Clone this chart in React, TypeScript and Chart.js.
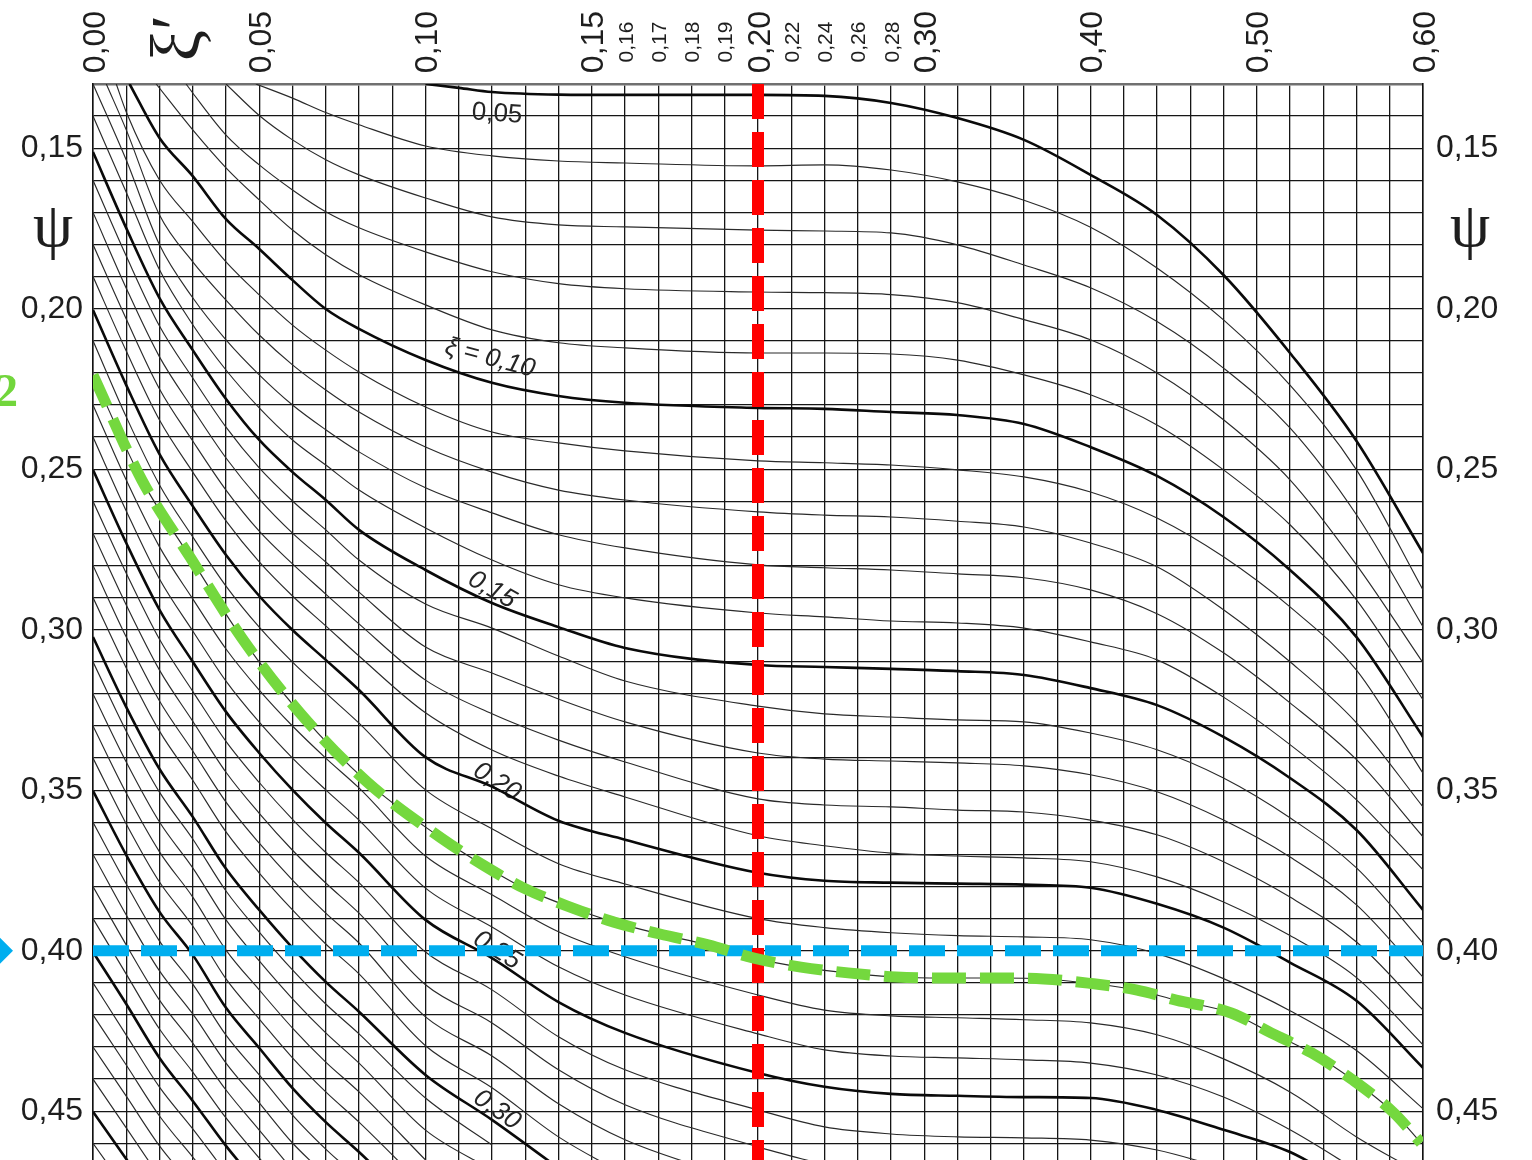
import React, { useEffect, useRef } from "react";
import { Chart, registerables, LinearScale } from "chart.js";

Chart.register(...registerables);

const W = 1532;
const H = 1160;
const PSI_MIN = 0.13;
const PSI_MAX = 0.4652;

// ---- axis labels ----
const xBigTicks = [0.0, 0.05, 0.1, 0.15, 0.2, 0.3, 0.4, 0.5, 0.6];
const xSmallTicks = [0.16, 0.17, 0.18, 0.19, 0.22, 0.24, 0.26, 0.28];
const yLabelValues = [0.15, 0.2, 0.25, 0.3, 0.35, 0.4, 0.45];

// nomogram x scale: 0..0.20 in 0.01 cells, 0.20..0.60 in 0.02 cells (40 cells)
const toCell = (x: number) => (x <= 0.2 ? x * 100 : 20 + (x - 0.2) * 50);
const fromCell = (c: number) => (c <= 20 ? c / 100 : 0.2 + (c - 20) / 50);
const xGridValues: number[] = [];
for (let c = 0; c <= 40; c++) xGridValues.push(fromCell(c));
const yGridValues: number[] = [];
for (let k = 13; k <= 46; k++) yGridValues.push(k / 100);

// ---- curves of constant xi : [xi', psi] ----
const xi05 = [[0.1,0.13],[0.11,0.1312],[0.12,0.1325],[0.14,0.1333],[0.16,0.1334],[0.2,0.1334],[0.24,0.1337],[0.28,0.1359],[0.32,0.1406],[0.36,0.1474],[0.4,0.1583],[0.44,0.1708],[0.48,0.1895],[0.52,0.2138],[0.56,0.2412],[0.6,0.2761]];
const xi06 = [[0.049,0.13],[0.06,0.1344],[0.07,0.1389],[0.08,0.1427],[0.1,0.1493],[0.12,0.1524],[0.14,0.154],[0.16,0.1546],[0.2,0.1555],[0.24,0.1552],[0.28,0.1568],[0.32,0.1605],[0.36,0.1662],[0.4,0.1746],[0.44,0.1873],[0.48,0.2035],[0.52,0.2238],[0.56,0.2502],[0.6,0.2876]];
const xi07 = [[0.04,0.13],[0.05,0.1398],[0.06,0.1474],[0.07,0.1536],[0.08,0.1583],[0.1,0.1655],[0.12,0.1714],[0.14,0.1739],[0.16,0.1745],[0.2,0.1755],[0.24,0.1758],[0.28,0.1764],[0.32,0.1801],[0.36,0.1864],[0.4,0.1935],[0.44,0.2040],[0.48,0.2185],[0.52,0.2371],[0.56,0.2642],[0.6,0.2991]];
const xi08 = [[0.028,0.13],[0.03,0.1328],[0.04,0.1459],[0.05,0.1552],[0.06,0.163],[0.07,0.1698],[0.08,0.1748],[0.1,0.1823],[0.12,0.1885],[0.14,0.1922],[0.16,0.1938],[0.2,0.1948],[0.24,0.195],[0.28,0.1956],[0.32,0.1981],[0.36,0.2034],[0.4,0.2097],[0.44,0.22],[0.48,0.2346],[0.52,0.2533],[0.56,0.2798],[0.6,0.3103]];
const xi09 = [[0.019,0.13],[0.03,0.1443],[0.04,0.1561],[0.05,0.1661],[0.06,0.1755],[0.07,0.1832],[0.08,0.1894],[0.1,0.1988],[0.12,0.2066],[0.14,0.2106],[0.16,0.2122],[0.2,0.2138],[0.24,0.2138],[0.28,0.2141],[0.32,0.216],[0.36,0.2206],[0.4,0.2268],[0.44,0.2362],[0.48,0.2502],[0.52,0.2673],[0.56,0.2907],[0.6,0.3218]];
const xi10 = [[0.011,0.13],[0.02,0.1468],[0.03,0.1587],[0.04,0.1721],[0.05,0.1814],[0.06,0.1911],[0.07,0.2001],[0.08,0.2063],[0.1,0.216],[0.12,0.2231],[0.14,0.2272],[0.16,0.2293],[0.2,0.2309],[0.24,0.2312],[0.28,0.2322],[0.32,0.2331],[0.36,0.2359],[0.4,0.2431],[0.44,0.2521],[0.48,0.2649],[0.52,0.2814],[0.56,0.3023],[0.6,0.3334]];
const xi11 = [[0.007,0.13],[0.01,0.1387],[0.02,0.1599],[0.03,0.1729],[0.04,0.1854],[0.05,0.1957],[0.06,0.2051],[0.07,0.2129],[0.08,0.2197],[0.1,0.2306],[0.12,0.2384],[0.14,0.2418],[0.16,0.2443],[0.2,0.2474],[0.24,0.248],[0.28,0.2487],[0.32,0.2502],[0.36,0.2524],[0.4,0.2571],[0.44,0.2652],[0.48,0.2773],[0.52,0.2929],[0.56,0.3126],[0.6,0.3447]];
const xi12 = [[0.004,0.13],[0.01,0.1443],[0.02,0.1708],[0.03,0.1854],[0.04,0.1973],[0.05,0.2082],[0.06,0.2175],[0.07,0.2253],[0.08,0.2322],[0.1,0.2431],[0.12,0.2509],[0.14,0.2565],[0.16,0.2596],[0.2,0.2633],[0.24,0.2643],[0.28,0.2649],[0.32,0.2662],[0.36,0.268],[0.4,0.273],[0.44,0.2804],[0.48,0.2938],[0.52,0.31],[0.56,0.329],[0.6,0.3552]];
const xi13 = [[0,0.13],[0.01,0.1537],[0.02,0.1801],[0.03,0.1966],[0.04,0.2097],[0.05,0.2206],[0.06,0.23],[0.07,0.2377],[0.08,0.2446],[0.1,0.2558],[0.12,0.2636],[0.14,0.2704],[0.16,0.2745],[0.2,0.2798],[0.24,0.2807],[0.28,0.2814],[0.32,0.2826],[0.36,0.2838],[0.4,0.2876],[0.44,0.295],[0.48,0.3072],[0.52,0.3228],[0.56,0.3405],[0.6,0.3645]];
const xi14 = [[0,0.14],[0.01,0.1637],[0.02,0.1879],[0.03,0.205],[0.04,0.2191],[0.05,0.2309],[0.06,0.2409],[0.07,0.2487],[0.08,0.2565],[0.1,0.2683],[0.12,0.2783],[0.14,0.286],[0.16,0.2901],[0.2,0.2948],[0.24,0.296],[0.28,0.2973],[0.32,0.2979],[0.36,0.2995],[0.4,0.3038],[0.44,0.3094],[0.48,0.321],[0.52,0.3358],[0.56,0.353],[0.6,0.3748]];
const xi15 = [[0,0.1512],[0.01,0.1749],[0.02,0.1967],[0.03,0.2129],[0.04,0.2281],[0.05,0.2409],[0.06,0.2509],[0.07,0.2596],[0.08,0.2689],[0.1,0.2814],[0.12,0.2917],[0.14,0.2992],[0.16,0.3057],[0.2,0.311],[0.24,0.3116],[0.28,0.3122],[0.32,0.3129],[0.36,0.3141],[0.4,0.3182],[0.44,0.3235],[0.48,0.3334],[0.52,0.3462],[0.56,0.3624],[0.6,0.3873]];
const xi16 = [[0,0.16],[0.01,0.1836],[0.02,0.2054],[0.03,0.2216],[0.04,0.2369],[0.05,0.2496],[0.06,0.2599],[0.07,0.2689],[0.08,0.2783],[0.1,0.292],[0.12,0.2995],[0.14,0.3082],[0.16,0.316],[0.2,0.3238],[0.24,0.3262],[0.28,0.3272],[0.32,0.3281],[0.36,0.3287],[0.4,0.3322],[0.44,0.3374],[0.48,0.3462],[0.52,0.3586],[0.56,0.3742],[0.6,0.3976]];
const xi17 = [[0,0.17],[0.01,0.1936],[0.02,0.215],[0.03,0.2312],[0.04,0.2465],[0.05,0.2593],[0.06,0.2699],[0.07,0.2789],[0.08,0.2883],[0.1,0.3054],[0.12,0.3135],[0.14,0.3216],[0.16,0.3287],[0.2,0.3384],[0.24,0.3403],[0.28,0.3409],[0.32,0.3415],[0.36,0.3424],[0.4,0.3452],[0.44,0.3505],[0.48,0.3593],[0.52,0.3708],[0.56,0.3857],[0.6,0.4082]];
const xi18 = [[0,0.18],[0.01,0.2032],[0.02,0.225],[0.03,0.2412],[0.04,0.2565],[0.05,0.2693],[0.06,0.2795],[0.07,0.2889],[0.08,0.2982],[0.1,0.3157],[0.12,0.3262],[0.14,0.3344],[0.16,0.3412],[0.2,0.3527],[0.24,0.3546],[0.28,0.3552],[0.32,0.3562],[0.36,0.3568],[0.4,0.3593],[0.44,0.3639],[0.48,0.3723],[0.52,0.3833],[0.56,0.3973],[0.6,0.4185]];
const xi19 = [[0,0.19],[0.01,0.2132],[0.02,0.2347],[0.03,0.2509],[0.04,0.2661],[0.05,0.2789],[0.06,0.2895],[0.07,0.2988],[0.08,0.3082],[0.1,0.3259],[0.12,0.3375],[0.14,0.3456],[0.16,0.3521],[0.2,0.3642],[0.24,0.3673],[0.28,0.3696],[0.32,0.3705],[0.36,0.3711],[0.4,0.3723],[0.44,0.377],[0.48,0.3848],[0.52,0.3953],[0.56,0.4084],[0.6,0.4293]];
const xi20 = [[0,0.2004],[0.01,0.2238],[0.02,0.2453],[0.03,0.2615],[0.04,0.2767],[0.05,0.2895],[0.06,0.3001],[0.07,0.3094],[0.08,0.3188],[0.1,0.3397],[0.12,0.3489],[0.14,0.3595],[0.16,0.3654],[0.2,0.3757],[0.24,0.3782],[0.28,0.3788],[0.32,0.3791],[0.36,0.3794],[0.4,0.3804],[0.44,0.3854],[0.48,0.3928],[0.52,0.4037],[0.56,0.4156],[0.6,0.4365]];
const xi21 = [[0,0.21],[0.01,0.2337],[0.02,0.2549],[0.03,0.2711],[0.04,0.2864],[0.05,0.2992],[0.06,0.3101],[0.07,0.3197],[0.08,0.3291],[0.1,0.3499],[0.12,0.362],[0.14,0.3729],[0.16,0.3792],[0.2,0.39],[0.24,0.3928],[0.28,0.3944],[0.32,0.3953],[0.36,0.3957],[0.4,0.3966],[0.44,0.4009],[0.48,0.4087],[0.52,0.4187],[0.56,0.4311],[0.6,0.4492]];
// xi = 0.22 is the curve traced by the green dashed highlight
const xi22 = [[0,0.2207],[0.0147,0.2534],[0.0292,0.2774],[0.0448,0.3026],[0.0623,0.326],[0.0824,0.3474],[0.1047,0.3649],[0.1173,0.3733],[0.1296,0.3805],[0.1435,0.3864],[0.1567,0.3911],[0.1705,0.3948],[0.185,0.3982],[0.1988,0.4023],[0.2258,0.4051],[0.2542,0.4069],[0.283,0.4082],[0.3118,0.4085],[0.3456,0.4085],[0.372,0.4088],[0.3985,0.4101],[0.4274,0.4122],[0.4515,0.4154],[0.4846,0.4194],[0.5086,0.4256],[0.5332,0.4319],[0.5579,0.4403],[0.5826,0.4506],[0.5988,0.4599]];
const xi23 = [[0,0.23],[0.01,0.2534],[0.02,0.2742],[0.03,0.2904],[0.04,0.306],[0.05,0.3188],[0.06,0.33],[0.07,0.34],[0.08,0.3493],[0.1,0.3705],[0.12,0.3826],[0.14,0.3941],[0.16,0.4019],[0.2,0.4138],[0.24,0.4185],[0.28,0.4203],[0.32,0.4209],[0.36,0.4215],[0.4,0.4225],[0.44,0.4262],[0.48,0.4337],[0.52,0.444],[0.56,0.458],[0.6,0.4698]];
const xi24 = [[0,0.24],[0.01,0.263],[0.02,0.2842],[0.03,0.3004],[0.04,0.316],[0.05,0.3288],[0.06,0.34],[0.07,0.3499],[0.08,0.3593],[0.1,0.3805],[0.12,0.3926],[0.14,0.405],[0.16,0.4138],[0.2,0.4259],[0.24,0.4309],[0.28,0.4328],[0.32,0.4334],[0.36,0.434],[0.4,0.435],[0.44,0.4387],[0.48,0.4456],[0.52,0.4558],[0.56,0.4683]];
const xi25 = [[0,0.2502],[0.01,0.273],[0.02,0.2938],[0.03,0.31],[0.04,0.3256],[0.05,0.3384],[0.06,0.3499],[0.07,0.3602],[0.08,0.3695],[0.1,0.3904],[0.12,0.4023],[0.14,0.416],[0.16,0.4256],[0.2,0.4381],[0.24,0.4424],[0.28,0.4446],[0.32,0.4452],[0.36,0.4456],[0.4,0.4459],[0.44,0.4496],[0.48,0.4558],[0.52,0.4627],[0.56,0.4745]];
const xi26 = [[0,0.26],[0.01,0.2824],[0.02,0.303],[0.03,0.3192],[0.04,0.3348],[0.05,0.3476],[0.06,0.3591],[0.07,0.3694],[0.08,0.3788],[0.1,0.4004],[0.12,0.4122],[0.14,0.4268],[0.16,0.4371],[0.2,0.4496],[0.24,0.4549],[0.28,0.4571],[0.32,0.458],[0.36,0.4583],[0.4,0.459],[0.44,0.4621],[0.48,0.4677]];
const xi27 = [[0,0.27],[0.01,0.2923],[0.02,0.3126],[0.03,0.3285],[0.04,0.3444],[0.05,0.3572],[0.06,0.3687],[0.07,0.3789],[0.08,0.3883],[0.1,0.4106],[0.12,0.4225],[0.14,0.4371],[0.16,0.448],[0.2,0.4611],[0.24,0.4667]];
const xi28 = [[0,0.28],[0.01,0.3023],[0.02,0.3222],[0.03,0.3378],[0.04,0.3537],[0.05,0.3665],[0.06,0.378],[0.07,0.3883],[0.08,0.3976],[0.1,0.4206],[0.12,0.4328],[0.14,0.4477],[0.16,0.4589],[0.2,0.4729]];
const xi29 = [[0,0.29],[0.01,0.3119],[0.02,0.3316],[0.03,0.3469],[0.04,0.363],[0.05,0.3758],[0.06,0.3873],[0.07,0.3979],[0.08,0.4072],[0.1,0.4296],[0.12,0.4427],[0.14,0.458],[0.16,0.4698]];
const xi30 = [[0,0.3023],[0.01,0.3241],[0.02,0.3434],[0.03,0.3583],[0.04,0.3745],[0.05,0.3873],[0.06,0.3991],[0.07,0.4097],[0.08,0.419],[0.1,0.4387],[0.12,0.4527],[0.14,0.4677]];
const xi31 = [[0,0.31],[0.01,0.3316],[0.02,0.3506],[0.03,0.3652],[0.04,0.3814],[0.05,0.3942],[0.06,0.406],[0.07,0.4166],[0.08,0.4259],[0.1,0.4459],[0.12,0.4605]];
const xi32 = [[0,0.32],[0.01,0.3412],[0.02,0.3599],[0.03,0.3742],[0.04,0.3904],[0.05,0.4032],[0.06,0.415],[0.07,0.4256],[0.08,0.435],[0.1,0.4559],[0.12,0.4683]];
const xi33 = [[0,0.33],[0.01,0.3509],[0.02,0.3692],[0.03,0.3833],[0.04,0.3998],[0.05,0.4122],[0.06,0.4241],[0.07,0.4347],[0.08,0.444],[0.1,0.4652]];
const xi34 = [[0,0.34],[0.01,0.3605],[0.02,0.3786],[0.03,0.3923],[0.04,0.4088],[0.05,0.4213],[0.06,0.4334],[0.07,0.444],[0.08,0.4534],[0.1,0.474]];
const xi35 = [[0,0.3502],[0.01,0.3702],[0.02,0.3879],[0.03,0.4013],[0.04,0.4178],[0.05,0.4303],[0.06,0.4428],[0.07,0.4534],[0.08,0.4627],[0.1,0.483]];
const xi36 = [[0,0.36],[0.01,0.3792],[0.02,0.397],[0.03,0.4104],[0.04,0.4263],[0.05,0.4387],[0.06,0.4512],[0.07,0.4618],[0.08,0.471]];
const xi37 = [[0,0.37],[0.01,0.3889],[0.02,0.4063],[0.03,0.4197],[0.04,0.435],[0.05,0.4474],[0.06,0.4599],[0.07,0.47]];
const xi38 = [[0,0.38],[0.01,0.3982],[0.02,0.4154],[0.03,0.4288],[0.04,0.4434],[0.05,0.4559],[0.06,0.4683]];
const xi39 = [[0,0.39],[0.01,0.4073],[0.02,0.4244],[0.03,0.4378],[0.04,0.4521],[0.05,0.4646],[0.06,0.476]];
const xi40 = [[0,0.4004],[0.01,0.4166],[0.02,0.4334],[0.03,0.4468],[0.04,0.4608],[0.05,0.4733]];
const xi41 = [[0,0.41],[0.01,0.4263],[0.02,0.4425],[0.03,0.4555],[0.04,0.4692]];
const xi42 = [[0,0.42],[0.01,0.4356],[0.02,0.4515],[0.03,0.4643],[0.04,0.477]];
const xi43 = [[0,0.43],[0.01,0.4453],[0.02,0.4608],[0.03,0.4733]];
const xi44 = [[0,0.44],[0.01,0.4552],[0.02,0.4705]];
const xi45 = [[0,0.4502],[0.01,0.4649],[0.02,0.4798]];
const xi46 = [[0,0.46],[0.01,0.4745]];

const curveSeries: [number, number[][]][] = [
  [0.05, xi05],[0.06, xi06],[0.07, xi07],[0.08, xi08],[0.09, xi09],[0.1, xi10],
  [0.11, xi11],[0.12, xi12],[0.13, xi13],[0.14, xi14],[0.15, xi15],[0.16, xi16],
  [0.17, xi17],[0.18, xi18],[0.19, xi19],[0.2, xi20],[0.21, xi21],[0.22, xi22],
  [0.23, xi23],[0.24, xi24],[0.25, xi25],[0.26, xi26],[0.27, xi27],[0.28, xi28],
  [0.29, xi29],[0.3, xi30],[0.31, xi31],[0.32, xi32],[0.33, xi33],[0.34, xi34],
  [0.35, xi35],[0.36, xi36],[0.37, xi37],[0.38, xi38],[0.39, xi39],[0.4, xi40],
  [0.41, xi41],[0.42, xi42],[0.43, xi43],[0.44, xi44],[0.45, xi45],[0.46, xi46],
];

// overlays
const redXi = 0.2;
const bluePsi = 0.4;
const greenCurve = xi22;

// curve labels: text, xi', psi, angle (deg), italic
const curveLabels: [string, number, number, number, boolean][] = [
  ["0,05", 0.1215, 0.1393, 4, false],
  ["ξ = 0,10", 0.1194, 0.2154, 15, true],
  ["0,15", 0.12, 0.2876, 30, true],
  ["0,20", 0.1215, 0.3474, 32, true],
  ["0,25", 0.1215, 0.3999, 32, true],
  ["0,30", 0.1215, 0.4496, 35, true],
];

const fmt = (v: number) => v.toFixed(2).replace(".", ",");
const SANS = '"Liberation Sans", Arial, Helvetica, sans-serif';
const SERIF = '"Liberation Serif", "DejaVu Serif", "Times New Roman", serif';

class NomogramScale extends (LinearScale as any) {
  static id = "nomogram";
  static defaults = {};
  buildTicks() {
    return xGridValues.map((v) => ({ value: v }));
  }
  getPixelForValue(value: number) {
    return (this as any).getPixelForDecimal(toCell(value) / 40);
  }
  getValueForPixel(pixel: number) {
    return fromCell((this as any).getDecimalForPixel(pixel) * 40);
  }
}
Chart.register(NomogramScale as any);

const textPlugin = {
  id: "nomogramText",
  beforeDatasetsDraw(chart: any) {
    const ctx = chart.ctx;
    const xs = chart.scales.x;
    const ys = chart.scales.y;
    ctx.save();
    ctx.fillStyle = "#262626";
    curveLabels.forEach(([t, x, p, a, it]) => {
      ctx.save();
      ctx.translate(xs.getPixelForValue(x), ys.getPixelForValue(p));
      ctx.rotate((a * Math.PI) / 180);
      ctx.font = `${it ? "italic " : ""}26px ${SANS}`;
      ctx.textAlign = "center";
      ctx.textBaseline = "middle";
      ctx.fillText(t, 0, 0);
      ctx.restore();
    });
    ctx.restore();
  },
  afterDraw(chart: any) {
    const ctx = chart.ctx;
    const xs = chart.scales.x;
    const ys = chart.scales.y;
    const area = chart.chartArea;
    ctx.save();
    ctx.fillStyle = "#1e1e1e";
    const drawTop = (v: number, fs: number) => {
      ctx.save();
      ctx.translate(xs.getPixelForValue(v), area.top - 42);
      ctx.rotate(-Math.PI / 2);
      ctx.font = `${fs}px ${SANS}`;
      ctx.textAlign = "center";
      ctx.textBaseline = "alphabetic";
      ctx.fillText(fmt(v), 0, 0.36 * fs);
      ctx.restore();
    };
    xBigTicks.forEach((v) => drawTop(v, 32));
    xSmallTicks.forEach((v) => drawTop(v, 21));

    // xi' symbol at top
    ctx.save();
    ctx.translate(199, area.top - 46);
    ctx.rotate(-Math.PI / 2);
    ctx.font = `70px ${SERIF}`;
    ctx.textAlign = "center";
    ctx.textBaseline = "alphabetic";
    ctx.fillText("ξ′", 0, 0);
    ctx.restore();

    // psi symbols
    ctx.font = `64px ${SERIF}`;
    ctx.textAlign = "center";
    ctx.textBaseline = "alphabetic";
    const psiY = ys.getPixelForValue(0.1805);
    ctx.fillText("ψ", area.left - 40, psiY);
    ctx.fillText("ψ", area.right + 47, psiY);

    // green "2" mark (clipped at the left edge)
    ctx.fillStyle = "#72d63c";
    ctx.font = `bold 46px ${SERIF}`;
    ctx.textAlign = "right";
    ctx.fillText("2", 18, ys.getPixelForValue(0.2302));

    // blue diamond marker at psi = 0.40
    const by = ys.getPixelForValue(bluePsi);
    ctx.fillStyle = "#00aeef";
    ctx.beginPath();
    ctx.moveTo(-13, by);
    ctx.lineTo(0, by - 13);
    ctx.lineTo(13, by);
    ctx.lineTo(0, by + 13);
    ctx.closePath();
    ctx.fill();
    ctx.restore();
  },
};

const gridCommon = {
  color: "#161616",
  lineWidth: 1.3,
  drawTicks: false,
};

const yTickCallback = (v: number) => {
  const hit = yLabelValues.find((l) => Math.abs(l - v) < 1e-6);
  return hit !== undefined ? fmt(hit) : "";
};

const fitY = (width: number) => (s: any) => {
  s.width = width;
  s.paddingTop = 0;
  s.paddingBottom = 0;
};

export default function App() {
  const ref = useRef<HTMLCanvasElement>(null);
  useEffect(() => {
    const canvas = ref.current;
    if (!canvas) return;
    const datasets: any[] = [];
    datasets.push({
      label: "highlight",
      data: greenCurve.map(([x, y]) => ({ x, y })),
      borderColor: "#74d83e",
      borderWidth: 11,
      borderDash: [34, 14],
      borderCapStyle: "butt",
      cubicInterpolationMode: "monotone",
      pointRadius: 0,
      fill: false,
      order: 0,
    });
    datasets.push({
      label: "xi'",
      data: [
        { x: redXi, y: PSI_MIN },
        { x: redXi, y: PSI_MAX },
      ],
      borderColor: "#ff0000",
      borderWidth: 12,
      borderDash: [35, 13],
      borderCapStyle: "butt",
      tension: 0,
      pointRadius: 0,
      fill: false,
      order: 1,
    });
    datasets.push({
      label: "psi",
      data: [
        { x: 0, y: bluePsi },
        { x: 0.6, y: bluePsi },
      ],
      borderColor: "#00aeef",
      borderWidth: 11,
      borderDash: [36, 12],
      borderCapStyle: "butt",
      tension: 0,
      pointRadius: 0,
      fill: false,
      order: 2,
    });
    curveSeries.forEach(([xi, pts]) => {
      const bold = Math.round(xi * 100) % 5 === 0;
      datasets.push({
        label: "xi " + fmt(xi),
        data: pts.map(([x, y]) => ({ x, y })),
        borderColor: bold ? "#0a0a0a" : "#2a2a2a",
        borderWidth: bold ? 2.6 : 1.15,
        cubicInterpolationMode: "monotone",
        pointRadius: 0,
        fill: false,
        order: bold ? 5 : 6,
      });
    });

    const chart = new Chart(canvas, {
      type: "line",
      data: { datasets },
      plugins: [textPlugin as any],
      options: {
        responsive: false,
        maintainAspectRatio: false,
        animation: false,
        events: [],
        layout: { padding: 0 },
        plugins: {
          legend: { display: false },
          tooltip: { enabled: false },
        },
        elements: { point: { radius: 0 } },
        scales: {
          x: {
            type: "nomogram" as any,
            position: "top",
            min: 0,
            max: 0.6,
            grid: gridCommon,
            border: { display: true, color: "#707070", width: 2.5 },
            ticks: { display: false },
            afterFit: (s: any) => {
              s.height = 84;
              s.paddingLeft = 0;
              s.paddingRight = 0;
            },
          } as any,
          y: {
            type: "linear",
            position: "left",
            reverse: true,
            min: PSI_MIN,
            max: PSI_MAX,
            afterBuildTicks: (s: any) => {
              s.ticks = yGridValues.map((v) => ({ value: v }));
            },
            grid: gridCommon,
            border: { display: true, color: "#111", width: 1.5 },
            ticks: {
              autoSkip: false,
              callback: yTickCallback as any,
              color: "#1e1e1e",
              padding: 10,
              font: { size: 32, family: SANS },
            },
            afterFit: fitY(93),
          } as any,
          y2: {
            type: "linear",
            position: "right",
            reverse: true,
            min: PSI_MIN,
            max: PSI_MAX,
            afterBuildTicks: (s: any) => {
              s.ticks = yGridValues.map((v) => ({ value: v }));
            },
            grid: { drawOnChartArea: false, drawTicks: false },
            border: { display: true, color: "#111", width: 1.5 },
            ticks: {
              autoSkip: false,
              callback: yTickCallback as any,
              color: "#1e1e1e",
              padding: 13,
              font: { size: 32, family: SANS },
            },
            afterFit: fitY(109),
          } as any,
        },
      } as any,
    });
    return () => chart.destroy();
  }, []);

  return (
    <div style={{ position: "absolute", left: 0, top: 0, width: W, height: H, background: "#fff" }}>
      <canvas ref={ref} width={W} height={H} style={{ width: W, height: H, display: "block" }} />
    </div>
  );
}
